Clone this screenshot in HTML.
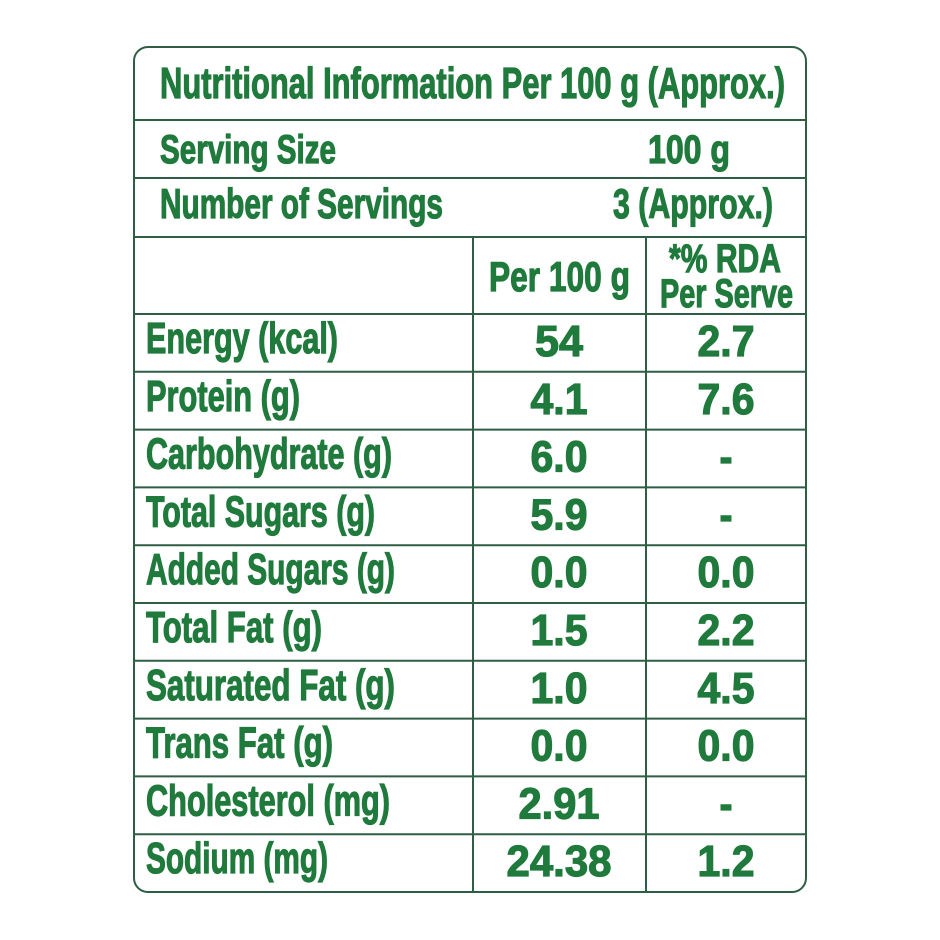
<!DOCTYPE html>
<html><head><meta charset="utf-8"><style>
html,body{margin:0;padding:0;background:#fff;}
svg{display:block;}
text{font-family:"Liberation Sans Narrow","Liberation Sans",sans-serif;font-weight:bold;fill:#1f7a3c;stroke:#1f7a3c;stroke-width:1.2;}
</style></head><body>
<svg id="t" width="940" height="940" viewBox="0 0 940 940">
<rect x="134" y="47" width="672" height="845" rx="14" fill="none" stroke="#2e5e44" stroke-width="2"/>
<g stroke="#2e5e44" stroke-width="2">
<line x1="134" y1="120" x2="806" y2="120"/>
<line x1="134" y1="178" x2="806" y2="178"/>
<line x1="134" y1="237" x2="806" y2="237"/>
<line x1="473" y1="237" x2="473" y2="892"/>
<line x1="646" y1="237" x2="646" y2="892"/>
<line x1="134" y1="314" x2="806" y2="314"/>
</g>
<text x="160" y="98" font-size="44" textLength="625" lengthAdjust="spacingAndGlyphs">Nutritional Information Per 100 g (Approx.)</text>
<text x="160" y="163" font-size="40" textLength="176" lengthAdjust="spacingAndGlyphs">Serving Size</text>
<text x="648" y="163" font-size="40" textLength="82" lengthAdjust="spacingAndGlyphs">100 g</text>
<text x="160" y="218" font-size="42" textLength="283" lengthAdjust="spacingAndGlyphs">Number of Servings</text>
<text x="613" y="218" font-size="42" textLength="160" lengthAdjust="spacingAndGlyphs">3 (Approx.)</text>
<text x="489" y="291" font-size="42" textLength="141" lengthAdjust="spacingAndGlyphs">Per 100 g</text>
<text x="669" y="272" font-size="40" textLength="112" lengthAdjust="spacingAndGlyphs">*% RDA</text>
<text x="660" y="307" font-size="40" textLength="133" lengthAdjust="spacingAndGlyphs">Per Serve</text>
<g id="rows"></g>
</svg>
<script>
const labels=["Energy (kcal)","Protein (g)","Carbohydrate (g)","Total Sugars (g)","Added Sugars (g)","Total Fat (g)","Saturated Fat (g)","Trans Fat (g)","Cholesterol (mg)","Sodium (mg)"];
const per100=["54","4.1","6.0","5.9","0.0","1.5","1.0","0.0","2.91","24.38"];
const rda=["2.7","7.6","-","-","0.0","2.2","4.5","0.0","-","1.2"];
const labelW=[192,154,246,229,249,176,249,187,244,182];
const NS="http://www.w3.org/2000/svg";
const g=document.getElementById('rows');
const top0=314,bottom=892,n=labels.length,rh=(bottom-top0)/n;
function w(s){if(s==="-")return 13;let t=0;for(const c of s)t+=(c===".")?9:24;return t;}
function txt(x,y,s,len,anchor){const e=document.createElementNS(NS,'text');e.setAttribute('x',x);e.setAttribute('y',y);e.setAttribute('font-size','44');
if(anchor)e.setAttribute('text-anchor','middle');
e.setAttribute('textLength',len);e.setAttribute('lengthAdjust','spacingAndGlyphs');e.textContent=s;g.appendChild(e);return e;}
for(let i=0;i<n;i++){
 const y0=top0+i*rh;
 if(i>0){const l=document.createElementNS(NS,'line');l.setAttribute('x1',134);l.setAttribute('x2',806);l.setAttribute('y1',y0);l.setAttribute('y2',y0);l.setAttribute('stroke','#2e5e44');l.setAttribute('stroke-width','2');
 
 
 g.appendChild(l);}
 const by=y0+39;
 const a=txt(146,by,labels[i],labelW[i],false);
 
 
 const b=txt(559,by+3,per100[i],w(per100[i]),true);
 
 
 const c=txt(726,by+3,rda[i],w(rda[i]),true);
 
 
}
</script>
</body></html>
